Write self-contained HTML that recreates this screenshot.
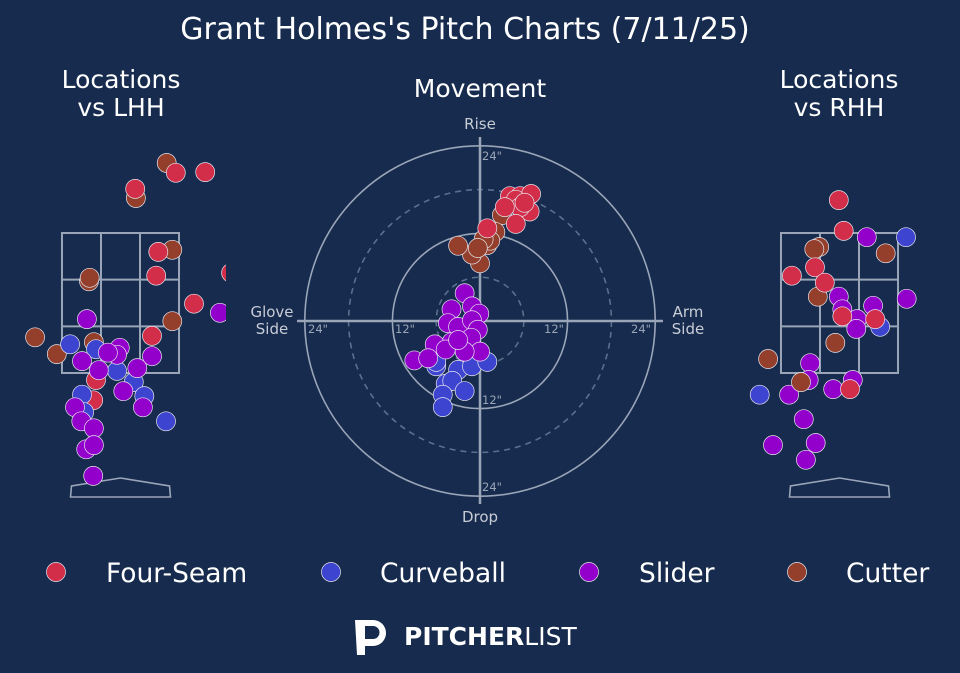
<!DOCTYPE html>
<html><head><meta charset="utf-8">
<style>
html,body{margin:0;padding:0;background:#162b4d;}
svg{display:block;font-family:"DejaVu Sans","Liberation Sans",sans-serif;}
</style></head>
<body>
<svg id="chart" width="960" height="673" viewBox="0 0 960 673">
<rect width="960" height="673" fill="#162b4d"/>
<text x="465" y="39" fill="#fff" font-size="30" text-anchor="middle">Grant Holmes's Pitch Charts (7/11/25)</text>
<text x="121" y="88" fill="#fff" font-size="25" text-anchor="middle"><tspan x="121">Locations</tspan><tspan x="121" dy="28">vs LHH</tspan></text>
<text x="839" y="88" fill="#fff" font-size="25" text-anchor="middle"><tspan x="839">Locations</tspan><tspan x="839" dy="28">vs RHH</tspan></text>
<text x="480" y="97" fill="#fff" font-size="25" text-anchor="middle">Movement</text>
<g id="mov"></g>
<g id="lhh"></g>
<g id="rhh"></g>
<g id="legend"></g>
<g>
<path d="M355 620 h18 a13 13 0 0 1 0 26 h-8 v9 h-8 z M365 626 v13 h8 a6.5 6.5 0 0 0 0 -13 z" fill="#fff" fill-rule="evenodd"/>
<text x="404" y="645" fill="#fff" font-size="25"><tspan font-weight="bold">PITCHER</tspan><tspan font-weight="normal">LIST</tspan></text>
</g>
</svg>
<script>
const NS="http://www.w3.org/2000/svg";
const types=["Four-Seam","Curveball","Slider","Cutter"];
const colors={"Four-Seam":"#d22d49","Curveball":"#3d44cf","Slider":"#9300cc","Cutter":"#933f2c"};
// movement (inches): horizontal break, induced vertical break
const movFSx=[4.1,5.5,7.0,4.9,6.8,5.5,4.9,1.0,6.1,3.4];
const movFSy=[17.1,17.1,17.4,16.6,15.0,15.6,13.3,12.7,16.2,15.6];
const movCUx=[3.0,2.1,1.0,0,-1.1,-3.0,1.4,0.5,-0.3];
const movCUy=[14.5,12.2,10.4,7.9,9.1,10.3,11.0,11.2,10.0];
const movSLx=[-2.1,-3.9,-1.1,-0.1,-4.4,-3.0,-1.1,-0.3,-1.2,-3.9,-6.2,-9.0,-7.1,0,-2.1,-4.7,-3.0];
const movSLy=[3.8,1.6,2.0,1.0,-0.3,-0.8,0.1,-1.2,-2.3,-2.9,-3.2,-5.4,-5.1,-4.2,-4.2,-3.9,-2.6];
const movCBx=[-7.0,-6.0,-3.0,-1.1,1.0,-4.7,-3.8,-2.1,-5.1,-5.1,-6.0];
const movCBy=[-5.1,-6.2,-6.7,-6.2,-5.6,-8.6,-8.2,-9.6,-10.1,-11.8,-5.6];
// locations vs LHH (feet): plate x, height z
const lFSx=[0.79,1.21,0.21,0.54,0.51,1.05,0.45,1.58,-0.35,-0.56,-0.39];
const lFSz=[4.36,4.37,4.13,3.23,2.89,2.49,2.03,2.93,1.40,1.07,1.11];
const lCUx=[0.66,0.22,0.74,-0.45,-0.44,0.74,-1.22,-0.91,-0.38];
const lCUz=[4.5,4.0,3.26,2.81,2.86,2.24,2.01,1.77,1.94];
const lCBx=[-0.72,-0.35,-0.05,0.19,0.34,0.65,-0.55,-0.52];
const lCBz=[1.91,1.84,1.53,1.37,1.17,0.81,1.19,0.94];
const lSLx=[-0.48,-0.55,-0.01,-0.05,-0.18,0.45,-0.31,0.24,0.04,0.32,-0.65,-0.56,-0.38,-0.49,-0.38,-0.39,1.42];
const lSLz=[2.27,1.67,1.86,1.76,1.79,1.74,1.54,1.57,1.24,1.01,1.01,0.81,0.71,0.41,0.47,0.03,2.36];
// locations vs RHH
const rFSx=[-0.01,0.06,-0.35,-0.68,-0.21,0.04,0.51,0.15];
const rFSz=[3.97,3.53,3.01,2.89,2.79,2.31,2.27,1.27];
const rCUx=[-0.29,-0.36,0.66,-0.31,-0.06,-1.02,-0.55];
const rCUz=[3.3,3.27,3.21,2.59,1.93,1.7,1.37];
const rCBx=[0.95,0.58,-1.14];
const rCBz=[3.44,2.16,1.19];
const rSLx=[0.39,0.96,-0.01,0.04,0.48,0.25,0.24,-0.42,-0.44,0.19,-0.09,-0.72,-0.51,-0.95,-0.34,-0.48];
const rSLz=[3.44,2.56,2.59,2.41,2.46,2.27,2.13,1.64,1.4,1.4,1.27,1.19,0.84,0.47,0.5,0.26];

function mk(tag,attrs,parent){const e=document.createElementNS(NS,tag);for(const k in attrs)e.setAttribute(k,attrs[k]);parent.appendChild(e);return e;}
function dot(parent,x,y,c){
  const e=mk("circle",{cx:x,cy:y,r:9.5,fill:c,stroke:"#e6e6ee","stroke-width":0.7},parent);
  
  
}
// Movement
const mov=document.getElementById("mov");
const MCX=480,MCY=321,PPI=7.3;
const mx=v=>MCX+v*PPI, my=v=>MCY-v*PPI;
[[24,false],[18,true],[12,false],[6,true]].forEach(([r,d])=>{
  const c=mk("circle",{cx:MCX,cy:MCY,r:r*PPI,fill:"none",stroke:d?"#5b6f8f":"#9aa5b8","stroke-width":1.6},mov);
  if(d)c.setAttribute("stroke-dasharray","6,5");
  
  
});
let ax=mk("line",{x1:297,y1:MCY,x2:663,y2:MCY,stroke:"#9aa5b8","stroke-width":2.5},mov);

ax=mk("line",{x1:MCX,y1:137,x2:MCX,y2:504,stroke:"#9aa5b8","stroke-width":2.5},mov);

const tickLbl=[["24\"",492,160],["12\"",492,404],["24\"",492,491],["24\"",318,333],["12\"",405,333],["12\"",554,333],["24\"",641,333]];
tickLbl.forEach(t=>{const e=mk("text",{x:t[1],y:t[2],fill:"#9aa5b8","font-size":11.5,"text-anchor":"middle"},mov);e.textContent=t[0];
  });
const axLbl=[["Rise",480,129],["Drop",480,522],["Glove",272,317],["Side",272,334],["Arm",688,317],["Side",688,334]];
axLbl.forEach(t=>{const e=mk("text",{x:t[1],y:t[2],fill:"#c8ccd6","font-size":15,"text-anchor":"middle"},mov);e.textContent=t[0];
  });
function plotM(xs,ys,c){xs.forEach((v,i)=>dot(mov,mx(v),my(ys[i]),c));}
plotM(movCBx,movCBy,colors.Curveball);
plotM(movSLx,movSLy,colors.Slider);
plotM(movCUx,movCUy,colors.Cutter);
plotM(movFSx,movFSy,colors["Four-Seam"]);

// Location panels
const PPF=70;
function panel(id,cx,clipW,clipX,sets){
  const g=document.getElementById(id);
  const cp=mk("clipPath",{id:id+"clip"},g);
  mk("rect",{x:clipX,y:130,width:clipW,height:400},cp);
  const inner=mk("g",{"clip-path":"url(#"+id+"clip)"},g);
  const px=v=>cx+v*PPF, pz=v=>373-(v-1.5)*PPF;
  const L=px(-0.836),R=px(0.836),T=pz(3.5),B=pz(1.5);
  const sz=mk("g",{stroke:"#9aa5b8","stroke-width":2,fill:"none"},inner);
  
  mk("rect",{x:L,y:T,width:R-L,height:B-T},sz);
  for(let i=1;i<3;i++){mk("line",{x1:L+(R-L)*i/3,y1:T,x2:L+(R-L)*i/3,y2:B},sz);mk("line",{x1:L,y1:T+(B-T)*i/3,x2:R,y2:T+(B-T)*i/3},sz);}
  const hp=mk("polygon",{points:`${cx-50},497 ${cx-49},486 ${cx},478 ${cx+49},486 ${cx+50},497`,fill:"none",stroke:"#9aa5b8","stroke-width":1.6},inner);
  
  sets.forEach(([xs,zs,c])=>xs.forEach((v,i)=>dot(inner,px(v),pz(zs[i]),c)));
}
panel("lhh",120.5,226,0,[[lCUx,lCUz,colors.Cutter],[lFSx,lFSz,colors["Four-Seam"]],[lCBx,lCBz,colors.Curveball],[lSLx,lSLz,colors.Slider]]);
panel("rhh",839.5,226,734,[[rSLx,rSLz,colors.Slider],[rCBx,rCBz,colors.Curveball],[rCUx,rCUz,colors.Cutter],[rFSx,rFSz,colors["Four-Seam"]]]);

// Legend
const lg=document.getElementById("legend");
const legDotX=[56,331,589,797],legTxtX=[106,380,639,846];
types.forEach((t,i)=>{
  const c=mk("circle",{cx:legDotX[i],cy:572,r:9.5,fill:colors[t],stroke:"#e6e6ee","stroke-width":0.7},lg);
  
  const e=mk("text",{x:legTxtX[i],y:582,fill:"#fff","font-size":26.5},lg);e.textContent=t;
  
});
</script>
</body></html>
